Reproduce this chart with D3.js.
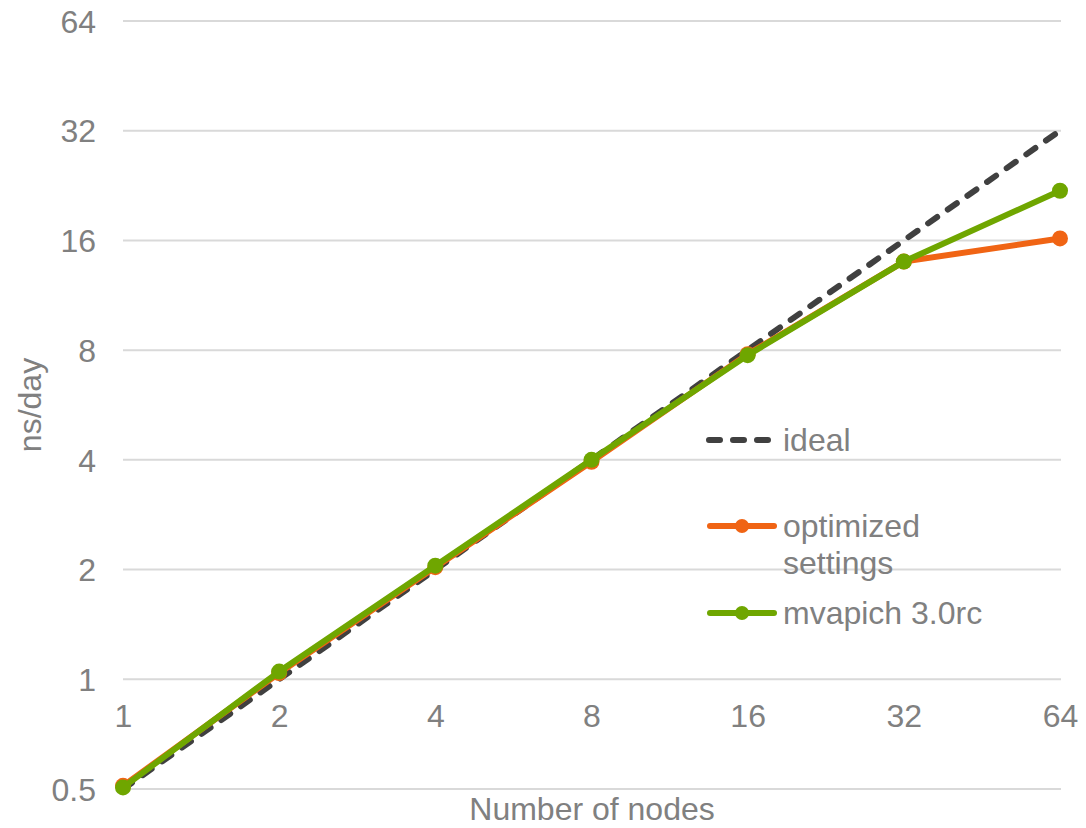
<!DOCTYPE html>
<html>
<head>
<meta charset="utf-8">
<script src="https://cdn.jsdelivr.net/npm/d3@7"></script>
<style>
  html, body { margin: 0; padding: 0; background: #fff; }
  svg { display: block; font-family: "Liberation Sans", Arial, sans-serif; }
</style>
</head>
<body>
<svg id="chart" width="1086" height="828"></svg>
<script>
// ---- data ----
const nodes = [1, 2, 4, 8, 16, 32, 64];
const idealValues = [0.5, 1, 2, 4, 8, 16, 32];
const optimizedValues = [0.51, 1.04, 2.03, 3.95, 7.8, 14.0, 16.2];
const mvapichValues = [0.505, 1.05, 2.05, 4.0, 7.75, 14.0, 21.9];
const yTicks = [0.5, 1, 2, 4, 8, 16, 32, 64];
const xTicks = [1, 2, 4, 8, 16, 32, 64];
const seriesNames = ["ideal", "optimized settings", "mvapich 3.0rc"];

// ---- layout ----
const svg = d3.select("#chart");
const textColor = "#808080";
const gridColor = "#d9d9d9";
const fontSize = 32;

const x = d3.scaleLog().base(2).domain([1, 64]).range([123, 1060]);
const y = d3.scaleLog().base(2).domain([0.5, 64]).range([789, 21]);

// gridlines
svg.append("g").selectAll("line").data(yTicks).join("line")
  .attr("x1", x(1)).attr("x2", x(64) + 1)
  .attr("y1", d => y(d)).attr("y2", d => y(d))
  .attr("stroke", gridColor).attr("stroke-width", 2);

// y axis labels
const yAxis = d3.axisLeft(y).tickValues(yTicks).tickFormat(d => String(d)).tickSize(0).tickPadding(0);
const gy = svg.append("g").attr("transform", "translate(96,0)").call(yAxis);
gy.select(".domain").remove();
gy.selectAll("text").attr("fill", textColor).attr("font-size", fontSize)
  .attr("font-family", "Liberation Sans, Arial, sans-serif").attr("dy", "0.35em").attr("x", 0);

// x axis labels (axis crosses at y = 1)
const xAxis = d3.axisBottom(x).tickValues(xTicks).tickFormat(d => String(d)).tickSize(0).tickPadding(0);
const gx = svg.append("g").attr("transform", `translate(0,${y(1) + 37})`).call(xAxis);
gx.select(".domain").remove();
gx.selectAll("text").attr("fill", textColor).attr("font-size", fontSize)
  .attr("font-family", "Liberation Sans, Arial, sans-serif").attr("dy", "0.35em").attr("y", 0);

// axis titles
svg.append("text").attr("x", 592).attr("y", 809).attr("dy", "0.35em")
  .attr("text-anchor", "middle").attr("fill", textColor).attr("font-size", fontSize)
  .text("Number of nodes");
svg.append("text").attr("transform", "translate(30,405) rotate(-90)").attr("dy", "0.35em")
  .attr("text-anchor", "middle").attr("fill", textColor).attr("font-size", fontSize)
  .text("ns/day");

// series
const line = d3.line().x((d, i) => x(nodes[i])).y(d => y(d));
const series = [
  { name: seriesNames[0], values: idealValues, color: "#404040", dash: "11,13", marker: false },
  { name: seriesNames[1], values: optimizedValues, color: "#f06414", dash: null, marker: true },
  { name: seriesNames[2], values: mvapichValues, color: "#6fa600", dash: null, marker: true }
];

series.forEach(s => {
  svg.append("path").datum(s.values).attr("d", line)
    .attr("fill", "none").attr("stroke", s.color).attr("stroke-width", 6)
    .attr("stroke-linecap", "round").attr("stroke-linejoin", "round")
    .attr("stroke-dasharray", s.dash);
  if (s.marker) {
    svg.append("g").selectAll("circle").data(s.values).join("circle")
      .attr("cx", (d, i) => x(nodes[i])).attr("cy", d => y(d)).attr("r", 8)
      .attr("fill", s.color);
  }
});

// legend
const legendItems = [
  { s: series[0], y: 440, lines: ["ideal"] },
  { s: series[1], y: 526, lines: ["optimized", "settings"] },
  { s: series[2], y: 613, lines: ["mvapich 3.0rc"] }
];
legendItems.forEach(it => {
  const g = svg.append("g");
  g.append("line").attr("x1", it.s.dash ? 709 : 710).attr("x2", 774).attr("y1", it.y).attr("y2", it.y)
    .attr("stroke", it.s.color).attr("stroke-width", 6).attr("stroke-linecap", "round")
    .attr("stroke-dasharray", it.s.dash);
  if (it.s.marker) {
    g.append("circle").attr("cx", 742).attr("cy", it.y).attr("r", 7).attr("fill", it.s.color);
  }
  it.lines.forEach((t, k) => {
    g.append("text").attr("x", 783).attr("y", it.y + k * 37).attr("dy", "0.35em")
      .attr("fill", textColor).attr("font-size", fontSize).text(t);
  });
});
</script>
</body>
</html>
